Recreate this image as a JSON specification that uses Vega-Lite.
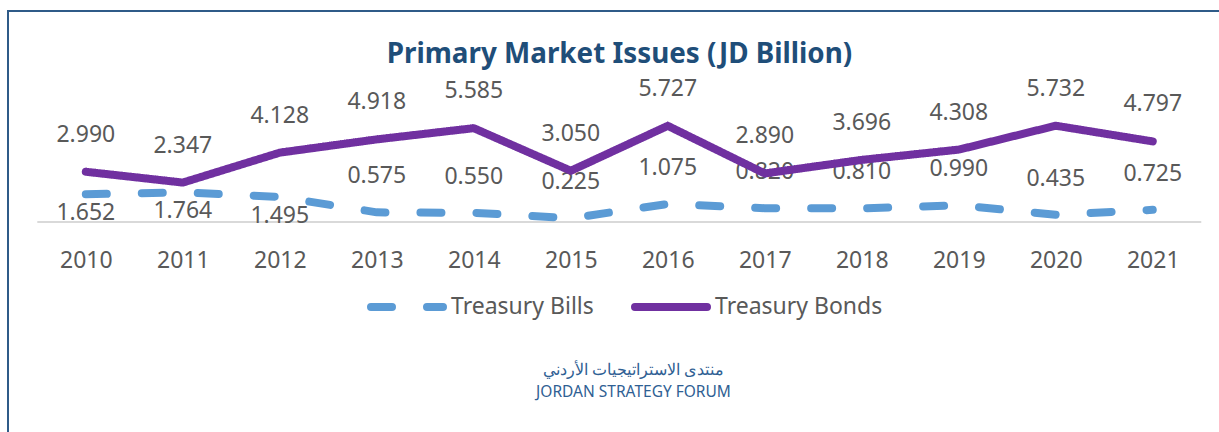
{
  "$schema": "https://vega.github.io/schema/vega-lite/v6.json",
  "autosize": {"type": "none"},
  "padding": {"left": 8, "top": 11, "right": -20, "bottom": -20},
  "width": 1231,
  "height": 441,
  "background": "white",
  "config": {
    "view": {"stroke": "#2F5B88", "strokeWidth": 2},
    "font": "Noto Sans"
  },
  "title": {
    "text": "Primary Market Issues (JD Billion)",
    "font": "Noto Sans",
    "fontSize": 27.8,
    "fontWeight": "bold",
    "color": "#1F4E79",
    "anchor": "middle",
    "baseline": "alphabetic",
    "offset": -80,
    "dx": -4
  },
  "data": {
    "values": [
      {"year": 2010, "series": "Treasury Bills", "value": 1.652},
      {"year": 2011, "series": "Treasury Bills", "value": 1.764},
      {"year": 2012, "series": "Treasury Bills", "value": 1.495},
      {"year": 2013, "series": "Treasury Bills", "value": 0.575},
      {"year": 2014, "series": "Treasury Bills", "value": 0.550},
      {"year": 2015, "series": "Treasury Bills", "value": 0.225},
      {"year": 2016, "series": "Treasury Bills", "value": 1.075},
      {"year": 2017, "series": "Treasury Bills", "value": 0.820},
      {"year": 2018, "series": "Treasury Bills", "value": 0.810},
      {"year": 2019, "series": "Treasury Bills", "value": 0.990},
      {"year": 2020, "series": "Treasury Bills", "value": 0.435},
      {"year": 2021, "series": "Treasury Bills", "value": 0.725},
      {"year": 2010, "series": "Treasury Bonds", "value": 2.990},
      {"year": 2011, "series": "Treasury Bonds", "value": 2.347},
      {"year": 2012, "series": "Treasury Bonds", "value": 4.128},
      {"year": 2013, "series": "Treasury Bonds", "value": 4.918},
      {"year": 2014, "series": "Treasury Bonds", "value": 5.585},
      {"year": 2015, "series": "Treasury Bonds", "value": 3.050},
      {"year": 2016, "series": "Treasury Bonds", "value": 5.727},
      {"year": 2017, "series": "Treasury Bonds", "value": 2.890},
      {"year": 2018, "series": "Treasury Bonds", "value": 3.696},
      {"year": 2019, "series": "Treasury Bonds", "value": 4.308},
      {"year": 2020, "series": "Treasury Bonds", "value": 5.732},
      {"year": 2021, "series": "Treasury Bonds", "value": 4.797}
    ]
  },
  "encoding": {
    "x": {
      "field": "year",
      "type": "quantitative",
      "scale": {"domain": [2009.198, 2021.889], "nice": false, "zero": false},
      "axis": {
        "values": [2010, 2011, 2012, 2013, 2014, 2015, 2016, 2017, 2018, 2019, 2020, 2021],
        "format": "d",
        "offset": -230,
        "domain": false,
        "ticks": false,
        "tickSize": 0,
        "grid": false,
        "labelPadding": 27,
        "labelFont": "Noto Sans",
        "labelFontSize": 23,
        "labelColor": "#595959",
        "labelFlush": false,
        "labelOverlap": false,
        "title": ["منتدى الاستراتيجيات الأردني", "JORDAN STRATEGY FORUM"],
        "titleFont": "Noto Sans",
        "titleFontSize": 15.5,
        "titleFontWeight": "normal",
        "titleColor": "#2F6093",
        "titleX": 625,
        "titleY": 152,
        "titleAlign": "center",
        "titleBaseline": "alphabetic",
        "titleLineHeight": 22
      }
    },
    "y": {
      "field": "value",
      "type": "quantitative",
      "scale": {"domain": [-13.69, 12.56], "nice": false, "zero": false},
      "axis": null
    }
  },
  "layer": [
    {
      "transform": [{"filter": "datum.year == 2010 && datum.series == 'Treasury Bills'"}],
      "mark": {"type": "rule", "color": "#D9D9D9", "strokeWidth": 2},
      "encoding": {
        "x": {"datum": 2009.5, "type": "quantitative"},
        "x2": {"datum": 2021.5},
        "y": {"datum": 0, "type": "quantitative"}
      }
    },
    {
      "transform": [{"filter": "datum.series == 'Treasury Bonds'"}],
      "mark": {"type": "text", "dy": -37, "baseline": "middle", "align": "center", "fontSize": 23, "font": "Noto Sans", "color": "#595959"},
      "encoding": {"text": {"field": "value", "type": "quantitative", "format": ".3f"}}
    },
    {
      "transform": [{"filter": "datum.series == 'Treasury Bills' && datum.year >= 2013"}],
      "mark": {"type": "text", "dy": -36, "baseline": "middle", "align": "center", "fontSize": 23, "font": "Noto Sans", "color": "#595959"},
      "encoding": {"text": {"field": "value", "type": "quantitative", "format": ".3f"}}
    },
    {
      "transform": [{"filter": "datum.series == 'Treasury Bills' && datum.year <= 2012"}],
      "mark": {"type": "text", "dy": 19, "baseline": "middle", "align": "center", "fontSize": 23, "font": "Noto Sans", "color": "#595959"},
      "encoding": {"text": {"field": "value", "type": "quantitative", "format": ".3f"}}
    },
    {
      "mark": {"type": "line", "strokeWidth": 8, "strokeCap": "round", "strokeJoin": "round"},
      "encoding": {
        "color": {
          "field": "series",
          "type": "nominal",
          "scale": {"domain": ["Treasury Bills", "Treasury Bonds"], "range": ["#5B9BD5", "#7030A0"]},
          "legend": {
            "title": null,
            "orient": "none",
            "direction": "horizontal",
            "legendX": 359,
            "legendY": 256,
            "padding": 0,
            "symbolType": "stroke",
            "symbolSize": 5184,
            "symbolStrokeWidth": 8,
            "labelFont": "Noto Sans",
            "labelFontSize": 23,
            "labelColor": "#595959",
            "labelOffset": 4,
            "labelLimit": 400,
            "columnPadding": 25,
            "encode": {"symbols": {"update": {"strokeCap": {"value": "round"}}}}
          }
        },
        "strokeDash": {
          "field": "series",
          "type": "nominal",
          "scale": {"domain": ["Treasury Bills", "Treasury Bonds"], "range": [[21, 35], [1, 0]]},
          "legend": {
            "title": null,
            "orient": "none",
            "direction": "horizontal",
            "legendX": 359,
            "legendY": 256,
            "padding": 0,
            "symbolType": "stroke",
            "symbolSize": 5184,
            "symbolStrokeWidth": 8,
            "labelFont": "Noto Sans",
            "labelFontSize": 23,
            "labelColor": "#595959",
            "labelOffset": 4,
            "labelLimit": 400,
            "columnPadding": 25,
            "encode": {"symbols": {"update": {"strokeCap": {"value": "round"}}}}
          }
        }
      }
    }
  ]
}
